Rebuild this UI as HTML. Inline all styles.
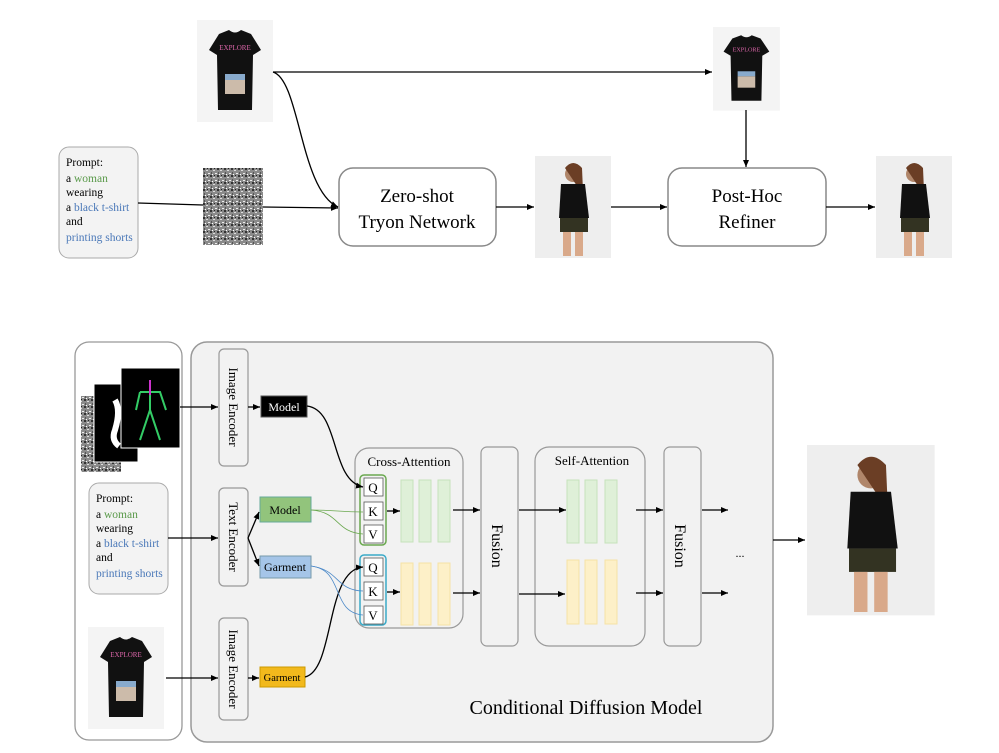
<!DOCTYPE html>
<html><head><meta charset="utf-8"><style>
body{margin:0;background:#fff}
svg text{font-family:"Liberation Serif",serif}
</style></head><body>
<svg width="999" height="748" viewBox="0 0 999 748" xmlns="http://www.w3.org/2000/svg">
<defs>
<marker id="a" markerWidth="8" markerHeight="8" refX="7" refY="4" orient="auto" markerUnits="userSpaceOnUse"><path d="M0,1 L7,4 L0,7z" fill="#000"/></marker>
<pattern id="nz" width="7" height="7" patternUnits="userSpaceOnUse"><rect width="7" height="7" fill="#8a8a8a"/><rect x="0" y="0" width="2" height="2" fill="#333"/><rect x="3" y="2" width="2" height="1" fill="#ddd"/><rect x="1" y="4" width="1" height="2" fill="#555"/><rect x="5" y="5" width="2" height="1" fill="#eee"/><rect x="4" y="0" width="1" height="1" fill="#222"/><rect x="2" y="6" width="1" height="1" fill="#fff"/></pattern>
<g id="shirt"><rect width="76" height="102" fill="#f4f4f4"/><path d="M22,14 L32,10 Q38,15 44,10 L54,14 L64,30 L56,35 L55,90 L21,90 L20,35 L12,30Z" fill="#111"/><text x="38" y="30" font-size="7" fill="#d6a" text-anchor="middle" font-family="Liberation Sans">EXPLORE</text><rect x="28" y="60" width="20" height="14" fill="#cba"/><rect x="28" y="54" width="20" height="6" fill="#8ac"/></g>
<g id="person"><rect width="76" height="102" fill="#eeeeee"/><circle cx="38" cy="18" r="8" fill="#b0866a"/><path d="M30,12 Q38,2 47,12 L48,35 L42,30Z" fill="#6b3e25"/><path d="M26,28 L50,28 L54,62 L24,62Z" fill="#111"/><rect x="25" y="62" width="28" height="14" fill="#332"/><rect x="28" y="76" width="8" height="24" fill="#d9a98a"/><rect x="40" y="76" width="8" height="24" fill="#d9a98a"/></g>
</defs>

<!-- TOP -->
<use href="#shirt" x="197" y="20"/>
<g transform="translate(713,27) scale(0.88,0.82)"><use href="#shirt"/></g>
<rect x="59" y="147" width="79" height="111" rx="10" fill="#f3f3f3" stroke="#aaa"/>
<g font-size="11.5"><text x="66" y="166">Prompt:</text><text x="66" y="182">a <tspan fill="#5a9a4a">woman</tspan></text><text x="66" y="196">wearing</text><text x="66" y="211">a <tspan fill="#4a78b8">black t-shirt</tspan></text><text x="66" y="225">and</text><text x="66" y="241" fill="#4a78b8">printing shorts</text></g>
<rect x="203" y="168" width="60" height="77" fill="url(#nz)"/>
<rect x="339" y="168" width="157" height="78" rx="14" fill="#fff" stroke="#888" stroke-width="1.5"/>
<text x="417" y="202" font-size="19" text-anchor="middle">Zero-shot</text><text x="417" y="228" font-size="19" text-anchor="middle">Tryon Network</text>
<use href="#person" x="535" y="156"/>
<rect x="668" y="168" width="158" height="78" rx="14" fill="#fff" stroke="#888" stroke-width="1.5"/>
<text x="747" y="202" font-size="19" text-anchor="middle">Post-Hoc</text><text x="747" y="228" font-size="19" text-anchor="middle">Refiner</text>
<use href="#person" x="876" y="156"/>
<g stroke="#000" stroke-width="1.3" fill="none">
<path d="M273,72 L712,72" marker-end="url(#a)"/>
<path d="M273,72 C300,80 300,190 338,207" marker-end="url(#a)"/>
<path d="M138,203 L203,205"/>
<path d="M263,207 L338,208" marker-end="url(#a)"/>
<path d="M496,207 L534,207" marker-end="url(#a)"/>
<path d="M611,207 L667,207" marker-end="url(#a)"/>
<path d="M746,110 L746,167" marker-end="url(#a)"/>
<path d="M826,207 L875,207" marker-end="url(#a)"/>
</g>

<!-- BOTTOM -->
<rect x="75" y="342" width="107" height="398" rx="14" fill="#fff" stroke="#999" stroke-width="1.3"/>
<rect x="191" y="342" width="582" height="400" rx="16" fill="#f2f2f2" stroke="#999" stroke-width="1.5"/>
<rect x="81" y="396" width="40" height="76" fill="url(#nz)"/>
<rect x="94" y="384" width="44" height="78" fill="#000" stroke="#fff"/>
<path d="M115,400 q6,10 0,30 q-4,10 4,16" stroke="#fff" stroke-width="6" fill="none"/>
<rect x="121" y="368" width="59" height="80" fill="#000" stroke="#fff"/>
<path d="M150,380 L150,410 L140,440 M150,410 L160,440 M140,392 L160,392 L166,410 M140,392 L136,410" stroke="#3c6" stroke-width="2" fill="none"/>
<path d="M150,380 L150,395" stroke="#c3c" stroke-width="2"/>
<rect x="89" y="483" width="79" height="111" rx="10" fill="#f3f3f3" stroke="#aaa"/>
<g font-size="11.5"><text x="96" y="502">Prompt:</text><text x="96" y="518">a <tspan fill="#5a9a4a">woman</tspan></text><text x="96" y="532">wearing</text><text x="96" y="547">a <tspan fill="#4a78b8">black t-shirt</tspan></text><text x="96" y="561">and</text><text x="96" y="577" fill="#4a78b8">printing shorts</text></g>
<use href="#shirt" x="88" y="627"/>

<g fill="#f2f2f2" stroke="#999" stroke-width="1.2">
<rect x="219" y="349" width="29" height="117" rx="5"/>
<rect x="219" y="488" width="29" height="98" rx="5"/>
<rect x="219" y="618" width="29" height="102" rx="5"/>
</g>
<g font-size="13">
<text transform="translate(229,407) rotate(90)" text-anchor="middle">Image Encoder</text>
<text transform="translate(229,537) rotate(90)" text-anchor="middle">Text Encoder</text>
<text transform="translate(229,669) rotate(90)" text-anchor="middle">Image Encoder</text>
</g>
<rect x="261" y="396" width="46" height="21" fill="#000" stroke="#555"/><text x="284" y="411" font-size="12" fill="#fff" text-anchor="middle">Model</text>
<rect x="260" y="497" width="51" height="25" fill="#92c47c" stroke="#6a9"/><text x="285" y="514" font-size="12" text-anchor="middle">Model</text>
<rect x="260" y="556" width="51" height="22" fill="#a5c5e8" stroke="#79a"/><text x="285" y="571" font-size="12" text-anchor="middle">Garment</text>
<rect x="260" y="667" width="45" height="20" fill="#f2b91c" stroke="#c90"/><text x="282" y="681" font-size="10.5" text-anchor="middle">Garment</text>

<rect x="355" y="448" width="108" height="180" rx="14" fill="#f2f2f2" stroke="#999" stroke-width="1.2"/>
<text x="409" y="466" font-size="13" text-anchor="middle">Cross-Attention</text>
<rect x="481" y="447" width="37" height="199" rx="6" fill="#f2f2f2" stroke="#999" stroke-width="1.2"/>
<rect x="535" y="447" width="110" height="199" rx="14" fill="#f2f2f2" stroke="#999" stroke-width="1.2"/>
<text x="592" y="465" font-size="13" text-anchor="middle">Self-Attention</text>
<rect x="664" y="447" width="37" height="199" rx="6" fill="#f2f2f2" stroke="#999" stroke-width="1.2"/>
<rect x="360" y="475" width="26" height="70" rx="4" fill="none" stroke="#6aa84f" stroke-width="1.5"/>
<rect x="360" y="555" width="26" height="70" rx="4" fill="none" stroke="#3aaac8" stroke-width="1.5"/>
<g fill="#fff" stroke="#555" stroke-width="0.8">
<rect x="364" y="478" width="19" height="18"/><rect x="364" y="502" width="19" height="18"/><rect x="364" y="525" width="19" height="18"/>
<rect x="364" y="558" width="19" height="18"/><rect x="364" y="582" width="19" height="18"/><rect x="364" y="606" width="19" height="18"/>
</g>
<g font-size="13" text-anchor="middle"><text x="373" y="492">Q</text><text x="373" y="516">K</text><text x="373" y="539">V</text><text x="373" y="572">Q</text><text x="373" y="596">K</text><text x="373" y="620">V</text></g>
<g fill="#dff0d8" stroke="#c5e2bb">
<rect x="401" y="480" width="12" height="62"/><rect x="419" y="480" width="12" height="62"/><rect x="438" y="480" width="12" height="62"/>
<rect x="567" y="480" width="12" height="63"/><rect x="585" y="480" width="12" height="63"/><rect x="605" y="480" width="12" height="63"/>
</g>
<g fill="#fdf0c8" stroke="#f5e2a5">
<rect x="401" y="563" width="12" height="62"/><rect x="419" y="563" width="12" height="62"/><rect x="438" y="563" width="12" height="62"/>
<rect x="567" y="560" width="12" height="64"/><rect x="585" y="560" width="12" height="64"/><rect x="605" y="560" width="12" height="64"/>
</g>
<text transform="translate(492,546) rotate(90)" font-size="16" text-anchor="middle">Fusion</text>
<text transform="translate(675,546) rotate(90)" font-size="16" text-anchor="middle">Fusion</text>
<text x="740" y="557" font-size="12" text-anchor="middle">...</text>
<text x="586" y="714" font-size="20" text-anchor="middle">Conditional Diffusion Model</text>
<g transform="translate(807,445) scale(1.68,1.67)"><use href="#person"/></g>

<g stroke="#000" stroke-width="1.3" fill="none">
<path d="M180,407 L218,407" marker-end="url(#a)"/>
<path d="M248,407 L260,407" marker-end="url(#a)"/>
<path d="M168,538 L218,538" marker-end="url(#a)"/>
<path d="M166,678 L218,678" marker-end="url(#a)"/>
<path d="M248,678 L259,678" marker-end="url(#a)"/>
<path d="M248,538 L259,512" marker-end="url(#a)"/><path d="M248,538 L259,566" marker-end="url(#a)"/>
<path d="M307,406 C340,410 330,480 363,487" marker-end="url(#a)"/>
<path d="M305,677 C335,670 325,570 363,567" marker-end="url(#a)"/>
<path d="M387,511 L400,511" marker-end="url(#a)"/><path d="M387,592 L400,592" marker-end="url(#a)"/>
<path d="M453,510 L480,510" marker-end="url(#a)"/><path d="M453,593 L480,593" marker-end="url(#a)"/>
<path d="M519,510 L566,510" marker-end="url(#a)"/><path d="M519,594 L565,594" marker-end="url(#a)"/>
<path d="M636,510 L663,510" marker-end="url(#a)"/><path d="M636,593 L663,593" marker-end="url(#a)"/>
<path d="M702,510 L728,510" marker-end="url(#a)"/><path d="M702,593 L728,593" marker-end="url(#a)"/>
<path d="M773,540 L805,540" marker-end="url(#a)"/>
</g>
<g stroke="#6aa84f" stroke-width="0.8" fill="none">
<path d="M311,510 C335,510 340,512 363,512"/><path d="M311,510 C340,512 335,532 363,534"/>
</g>
<g stroke="#4a88c8" stroke-width="0.8" fill="none">
<path d="M311,566 C340,570 335,590 363,591"/><path d="M311,566 C345,570 330,612 363,615"/>
</g>
</svg>
</body></html>
